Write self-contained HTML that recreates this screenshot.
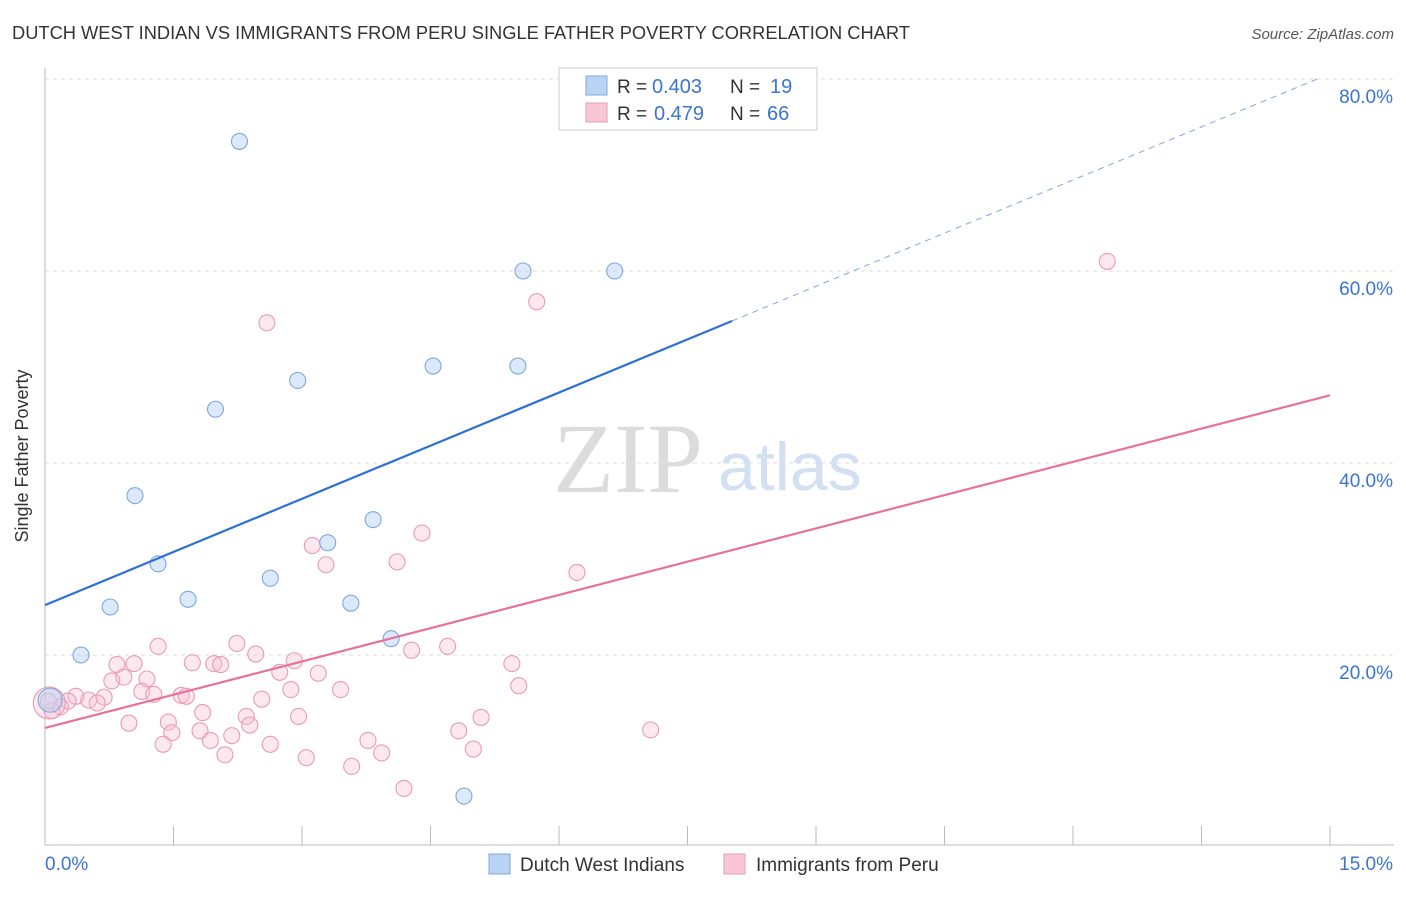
<!DOCTYPE html>
<html><head><meta charset="utf-8">
<style>
body{margin:0;background:#fff;font-family:"Liberation Sans",sans-serif}
#c{position:relative;width:1406px;height:892px}
</style></head><body>
<div id="c">
<svg id="s" width="1406" height="892">
<text x="12" y="39" font-size="18.3" fill="#333">DUTCH WEST INDIAN VS IMMIGRANTS FROM PERU SINGLE FATHER POVERTY CORRELATION CHART</text>
<text x="1394" y="39" font-size="15" fill="#555" font-style="italic" text-anchor="end">Source: ZipAtlas.com</text>
<text x="28" y="456" font-size="18" fill="#333" text-anchor="middle" transform="rotate(-90 28 456)">Single Father Poverty</text>
<text x="553" y="492" font-size="100" fill="#dcdcdc" font-family="Liberation Serif,serif">ZIP</text>
<text x="718" y="490" font-size="68" fill="#d3e0f3">atlas</text>
<g id="grid"></g><g id="marks"></g>
<g>
<rect x="559" y="68" width="258" height="62" fill="#fff" stroke="#ccc"/>
<rect x="586" y="76" width="21" height="19" fill="#b9d3f5" stroke="#7fa7dd"/>
<rect x="586" y="103" width="21" height="19" fill="#f9c6d5" stroke="#e99ab4"/>
<text x="617" y="93" font-size="19" fill="#333">R =</text>
<text x="652" y="93" font-size="20" fill="#3b74d1">0.403</text>
<text x="730" y="93" font-size="19" fill="#333">N =</text>
<text x="770" y="93" font-size="20" fill="#3b74d1">19</text>
<text x="617" y="120" font-size="19" fill="#333">R =</text>
<text x="654" y="120" font-size="20" fill="#3b74d1">0.479</text>
<text x="730" y="120" font-size="19" fill="#333">N =</text>
<text x="767" y="120" font-size="20" fill="#3b74d1">66</text>
</g>
<g>
<rect x="489" y="854" width="21" height="20" fill="#b9d3f5" stroke="#7fa7dd"/>
<text x="520" y="871" font-size="19" fill="#333">Dutch West Indians</text>
<rect x="724" y="854" width="21" height="20" fill="#f9c6d5" stroke="#e99ab4"/>
<text x="756" y="871" font-size="19" fill="#333">Immigrants from Peru</text>
</g>
</svg></div>
<script>
const yTicks=[20,40,60,80];
const yTickLabels=["20.0%","40.0%","60.0%","80.0%"];
const blueX=[2.27,5.58,6.65,2.95,4.53,5.52,1.99,1.05,3.83,3.30,1.32,2.63,1.67,0.76,3.57,4.04,0.42,4.89,0.06];
const blueY=[73.5,60.0,60.0,48.6,50.1,50.1,45.6,36.6,34.1,31.7,29.5,28.0,25.8,25.0,25.4,21.7,20.0,5.3,15.3];
const pinkX=[2.59,5.74,12.4,4.40,3.12,3.28,4.11,6.21,1.32,2.24,4.70,4.28,2.46,2.91,5.45,1.72,1.97,2.05,0.84,1.04,2.74,3.19,0.92,0.78,1.19,3.45,5.53,1.13,1.27,1.59,1.65,2.87,2.53,0.69,0.51,0.36,0.61,0.27,0.18,0.08,0.04,1.84,2.35,2.96,5.09,1.44,0.98,2.39,4.83,7.07,1.81,1.48,2.18,3.77,1.38,1.93,2.63,5.0,3.93,2.10,3.05,3.58,4.19,0.05];
const pinkY=[54.6,56.8,61.0,32.7,31.4,29.4,29.7,28.6,20.9,21.2,20.9,20.5,20.1,19.4,19.1,19.2,19.1,19.0,19.0,19.1,18.2,18.1,17.7,17.3,17.5,16.4,16.8,16.2,15.9,15.8,15.7,16.4,15.4,15.6,15.3,15.7,15.0,15.2,14.6,14.2,15.2,14.0,13.6,13.6,13.5,13.0,12.9,12.7,12.1,12.2,12.1,11.9,11.6,11.1,10.7,11.1,10.7,10.2,9.8,9.6,9.3,8.4,6.1,15.0];
const blueFit=[25.2,3.69];
const pinkFit=[12.4,2.31];
const X0=45,X1=1330,xmax=15,Y0=847,ppy=9.6;
const sx=v=>X0+(v/xmax)*(X1-X0), sy=v=>Y0-v*ppy;
const NS="http://www.w3.org/2000/svg";
function mk(p,t,a){const e=document.createElementNS(NS,t);for(const k in a)e.setAttribute(k,a[k]);p.appendChild(e);return e;}
const g=document.getElementById('grid'), m=document.getElementById('marks');
yTicks.forEach((v,i)=>{
 const l=mk(g,'line',{x1:X0,x2:1394,y1:sy(v),y2:sy(v),stroke:'#ddd','stroke-dasharray':'4,4'});
 
 
 const t=mk(g,'text',{x:1393,y:sy(v)+24,'font-size':19,fill:'#3b74d1','text-anchor':'end'});
 t.textContent=yTickLabels[i];
 
 
});
const ax=mk(g,'line',{x1:X0,x2:1394,y1:845,y2:845,stroke:'#bbb'});


const ay=mk(g,'line',{x1:X0,x2:X0,y1:68,y2:845,stroke:'#bbb'});


for(let i=0;i<=10;i++){const x=sx(i*1.5);const t=mk(g,'line',{x1:x,x2:x,y1:826,y2:845,stroke:'#bbb'});
 
 }
[["0.0%",45,"start"],["15.0%",1393,"end"]].forEach(a=>{const t=mk(g,'text',{x:a[1],y:870,'font-size':19,fill:'#3b74d1','text-anchor':a[2]});t.textContent=a[0];
 
 });
pinkX.forEach((v,i)=>{const c=mk(m,'circle',{cx:sx(v),cy:sy(pinkY[i]),r:i==pinkX.length-1?16:8,fill:'rgba(249,190,208,0.35)',stroke:'#e99ab4','stroke-width':1.1});
 
 });
blueX.forEach((v,i)=>{const c=mk(m,'circle',{cx:sx(v),cy:sy(blueY[i]),r:i==blueX.length-1?12:8,fill:'rgba(185,211,245,0.5)',stroke:'#7fa7dd','stroke-width':1.1});
 
 });
const bx=8.02;
const bl=mk(m,'line',{x1:sx(0),y1:sy(blueFit[0]),x2:sx(bx),y2:sy(blueFit[0]+blueFit[1]*bx),stroke:'#2d6fd6','stroke-width':2.2});


const bxe=(80-blueFit[0])/blueFit[1];
const bd=mk(m,'line',{x1:sx(bx),y1:sy(blueFit[0]+blueFit[1]*bx),x2:sx(bxe),y2:sy(80),stroke:'#7fa7dd','stroke-width':1,'stroke-dasharray':'6,5'});


const pl=mk(m,'line',{x1:sx(0),y1:sy(pinkFit[0]),x2:sx(15),y2:sy(pinkFit[0]+pinkFit[1]*15),stroke:'#e8709a','stroke-width':2.2});


</script>
</body></html>
